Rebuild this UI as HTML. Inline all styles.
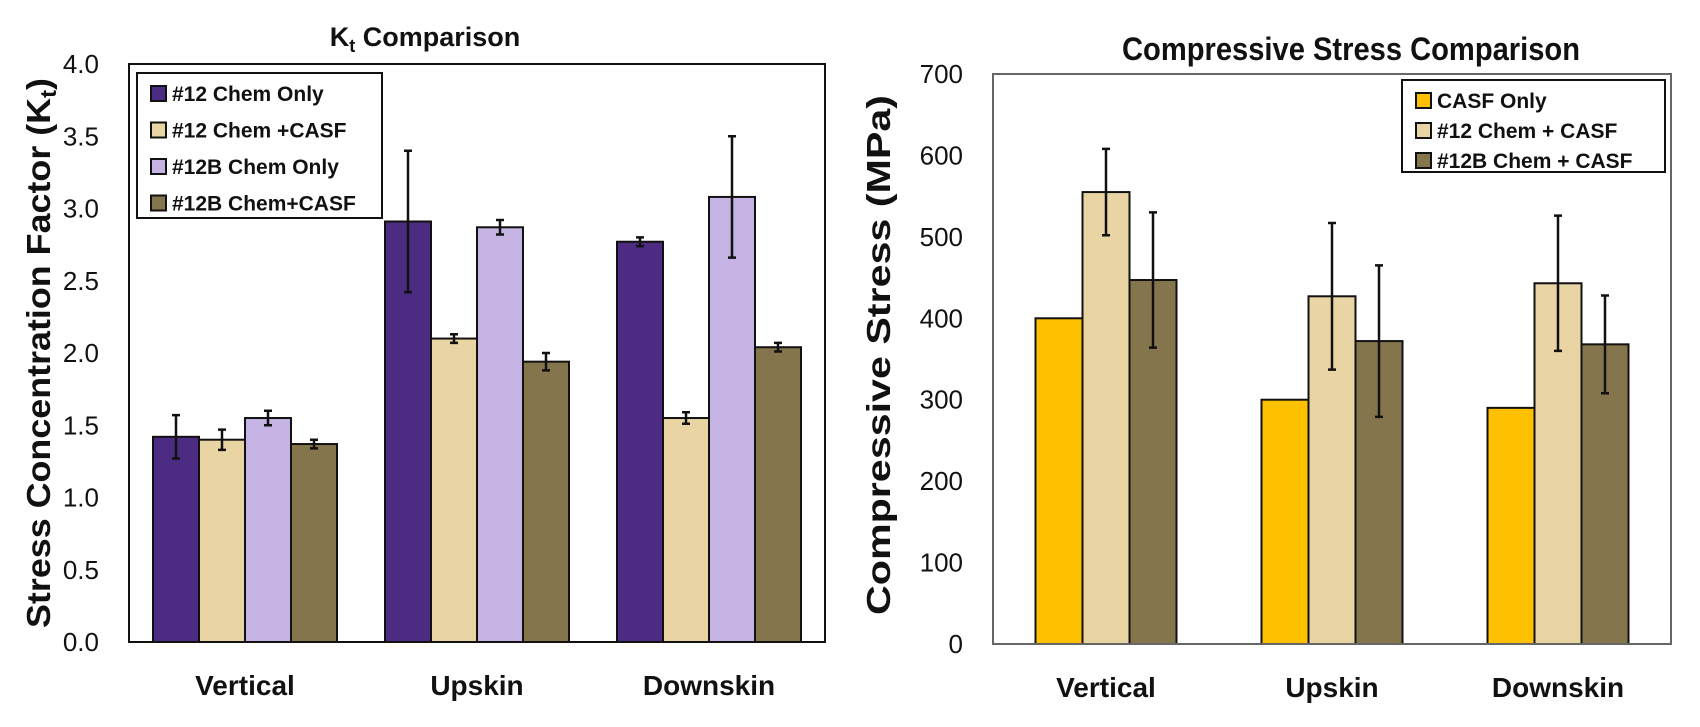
<!DOCTYPE html>
<html><head><meta charset="utf-8"><style>
body{margin:0;background:#fff;}
svg text{font-family:"Liberation Sans",sans-serif;}
</style></head><body>
<svg id="c" width="1700" height="722" xmlns="http://www.w3.org/2000/svg"></svg>
<script>
const ktCategories = ["Vertical","Upskin","Downskin"];
const ktSeries = ["#12 Chem Only","#12 Chem +CASF","#12B Chem Only","#12B Chem+CASF"];
const kt12Chem = [1.42,2.91,2.77];
const kt12ChemErr = [0.15,0.49,0.03];
const kt12Casf = [1.40,2.10,1.55];
const kt12CasfErr = [0.07,0.03,0.04];
const kt12B = [1.55,2.87,3.08];
const kt12BErr = [0.05,0.05,0.42];
const kt12BCasf = [1.37,1.94,2.04];
const kt12BCasfErr = [0.03,0.06,0.03];
const ktTicks = ["0.0","0.5","1.0","1.5","2.0","2.5","3.0","3.5","4.0"];

const csCategories = ["Vertical","Upskin","Downskin"];
const csSeries = ["CASF Only","#12 Chem + CASF","#12B Chem + CASF"];
const csCasf = [400,300,290];
const csCasfErr = [0,0,0];
const cs12 = [555,427,443];
const cs12Err = [53,90,83];
const cs12B = [447,372,368];
const cs12BErr = [83,93,60];
const csTicks = ["0","100","200","300","400","500","600","700"];

const svg = document.getElementById('c');
const NS = "http://www.w3.org/2000/svg";
function mk(tag, attrs, parent){const e=document.createElementNS(NS,tag);for(const k in attrs)e.setAttribute(k,attrs[k]);(parent||svg).appendChild(e);return e;}

function chart(o){
  const g=mk('g',{});
  
  
  const y=v=>o.bottom-(v-o.min)/(o.max-o.min)*(o.bottom-o.top);
  const catW=(o.right-o.left)/o.cats.length;
  o.ticks.forEach(t=>{
    const tx=mk('text',{x:o.left-30,y:y(parseFloat(t))+9,'text-anchor':'end','font-size':o.tickSize,fill:'#111'},g);
    tx.textContent=t;
    
    
  });
  o.cats.forEach((c,i)=>{
    const cx=o.left+catW*(i+0.5);
    const n=o.series.length;
    o.vals.forEach((arr,s)=>{
      const x=cx-n*o.bw/2+s*o.bw;
      const r=mk('rect',{x:x,y:y(arr[i]),width:o.bw,height:y(0)-y(arr[i]),fill:o.colors[s],stroke:'#111','stroke-width':2},g);
      
      
      const e=o.errs[s][i];
      if(e>0){
        const bx=x+o.bw/2;
        const eb=mk('path',{d:`M${bx},${y(arr[i]+e)}V${y(arr[i]-e)}M${bx-4},${y(arr[i]+e)}h8M${bx-4},${y(arr[i]-e)}h8`,stroke:'#111','stroke-width':2.5,fill:'none'},g);
        
        
      }
    });
    const lt=mk('text',{x:cx,y:o.bottom+53,'text-anchor':'middle','font-size':28,'font-weight':'bold',fill:'#111'},g);
    lt.textContent=c;
    
    
  });
  const fr=mk('rect',{x:o.left,y:o.top,width:o.right-o.left,height:o.bottom-o.top,fill:'none',stroke:o.frame,'stroke-width':2},g);
  
  
  const L=o.legend;
  const lg=mk('g',{},g);
  
  
  mk('rect',{x:L.x,y:L.y,width:L.w,height:L.h,fill:'#fff',stroke:'#111','stroke-width':2},lg);
  o.series.forEach((s,k)=>{
    const ey=L.y+L.pad+k*L.step;
    const e=mk('g',{},lg);
    
    
    mk('rect',{x:L.x+14,y:ey-14,width:15,height:15,fill:o.colors[k],stroke:'#111','stroke-width':2},e);
    const t=mk('text',{x:L.x+35,y:ey+1,'font-size':L.fs,'font-weight':'bold',fill:'#111'},e);
    t.textContent=s;
  });
  return g;
}

chart({name:'kt-chart',left:129,right:825,top:64,bottom:642,min:0,max:4,ticks:ktTicks,tickSize:26,
  cats:ktCategories,series:ktSeries,vals:[kt12Chem,kt12Casf,kt12B,kt12BCasf],errs:[kt12ChemErr,kt12CasfErr,kt12BErr,kt12BCasfErr],
  bw:46,colors:['#4b2c82','#e8d5a3','#c5b4e3','#85754d'],frame:'#111',
  legend:{x:137,y:73,w:245,h:145,pad:27,step:36.5,fs:21}});
chart({name:'compressive-stress-chart',left:993,right:1671,top:74,bottom:644,min:0,max:700,ticks:csTicks,tickSize:26,
  cats:csCategories,series:csSeries,vals:[csCasf,cs12,cs12B],errs:[csCasfErr,cs12Err,cs12BErr],
  bw:47,colors:['#ffc000','#e8d5a3','#85754d'],frame:'#666',
  legend:{x:1402,y:80,w:263,h:92,pad:27,step:30,fs:21}});

function txt(s,a,name){const t=mk('text',a);t.textContent=s;return t;}
const t1=mk('text',{x:425,y:46,'text-anchor':'middle','font-size':27,'font-weight':'bold',fill:'#111'});
t1.innerHTML='K<tspan font-size="18" dy="6">t</tspan><tspan dy="-6"> Comparison</tspan>';


txt('Compressive Stress Comparison',{x:1351,y:60,'text-anchor':'middle','font-size':32,'font-weight':'bold',fill:'#111',textLength:458,lengthAdjust:'spacingAndGlyphs'},'cs-chart-title');
const ya=mk('text',{x:0,y:0,transform:'translate(50,353) rotate(-90)','text-anchor':'middle','font-size':33,'font-weight':'bold',fill:'#111',textLength:550,lengthAdjust:'spacingAndGlyphs'});
ya.innerHTML='Stress Concentration Factor (K<tspan font-size="22" dy="6">t</tspan><tspan dy="-6">)</tspan>';


txt('Compressive Stress (MPa)',{x:0,y:0,transform:'translate(890,355) rotate(-90)','text-anchor':'middle','font-size':33,'font-weight':'bold',fill:'#111',textLength:520,lengthAdjust:'spacingAndGlyphs'},'cs-y-axis-title');
</script>
</body></html>
